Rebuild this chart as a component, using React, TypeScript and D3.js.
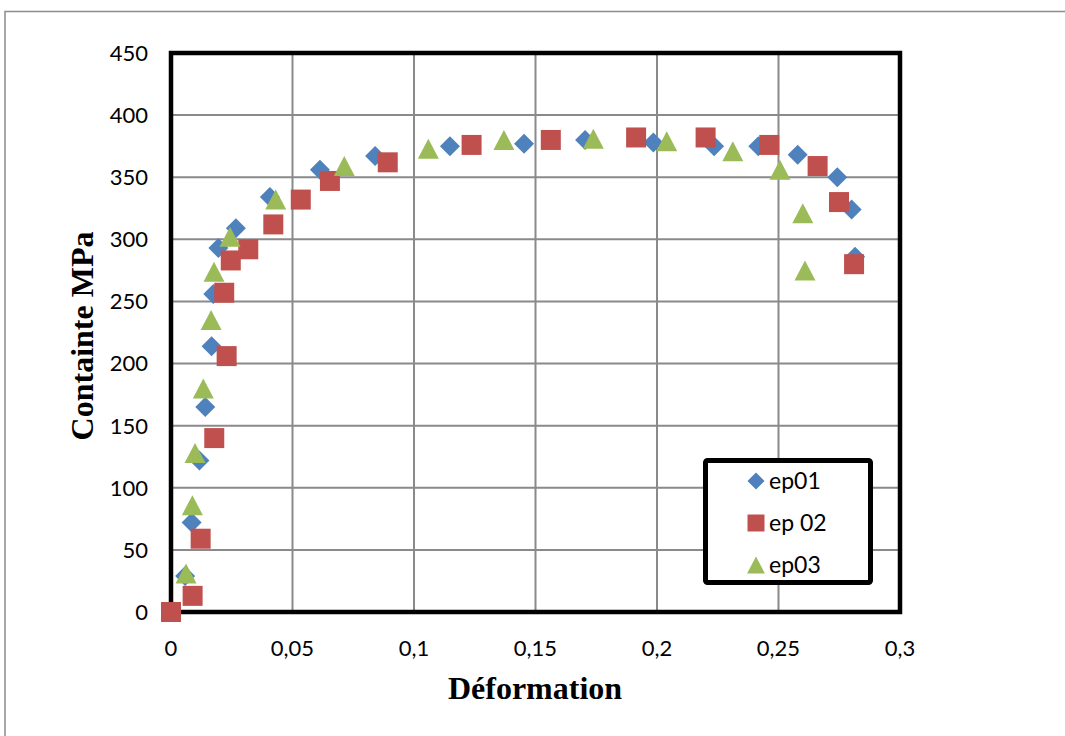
import React from "react";
import * as d3 from "d3";

const xTicks = [0, 0.05, 0.1, 0.15, 0.2, 0.25, 0.3];
const xTickLabels = ["0", "0,05", "0,1", "0,15", "0,2", "0,25", "0,3"];
const yTicks = [0, 50, 100, 150, 200, 250, 300, 350, 400, 450];
const yTickLabels = ["0", "50", "100", "150", "200", "250", "300", "350", "400", "450"];

const ep01X = [0, 0.0058, 0.0085, 0.0117, 0.0141, 0.0167, 0.0174, 0.0195, 0.0267, 0.0407, 0.0613, 0.084, 0.1148, 0.1453, 0.1704, 0.1985, 0.2235, 0.2417, 0.2579, 0.2742, 0.2801, 0.2815];
const ep01Y = [0, 29, 72, 122, 165, 214, 256, 293, 309, 334, 356, 367, 375, 377, 380, 378, 375, 375, 368, 350, 324, 286];

const ep02X = [0, 0.0089, 0.0122, 0.0178, 0.0229, 0.0219, 0.0246, 0.0318, 0.0421, 0.0534, 0.0654, 0.0892, 0.1237, 0.1563, 0.1914, 0.22, 0.2462, 0.2661, 0.2749, 0.2811];
const ep02Y = [0, 13, 59, 140, 206, 257, 283, 292, 312, 332, 347, 362, 376, 380, 382, 382, 376, 359, 330, 280];

const ep03X = [0.0062, 0.0088, 0.0099, 0.0133, 0.0165, 0.0177, 0.0243, 0.0431, 0.0713, 0.1059, 0.137, 0.1738, 0.204, 0.2312, 0.2506, 0.26, 0.2609];
const ep03Y = [31, 86, 128, 180, 235, 274, 302, 332, 359, 373, 380, 381, 379, 371, 356, 321, 275];

const seriesNames = ["ep01", "ep 02", "ep03"];
const seriesColors = ["#4F81BD", "#C0504D", "#9BBB59"];

const diamond = (r: number) => `M0,${-r}L${r},0L0,${r}L${-r},0Z`;
const square = (r: number) => `M${-r},${-r}L${r},${-r}L${r},${r}L${-r},${r}Z`;
const triangle = (r: number) => `M0,${-r}L${r * 1.05},${r}L${-r * 1.05},${r}Z`;
const shapes = [diamond, square, triangle];

export default function App() {
  const W = 1065, H = 736;
  const left = 171, right = 900, top = 53, bottom = 612;
  const x = d3.scaleLinear().domain([0, 0.3]).range([left, right]);
  const y = d3.scaleLinear().domain([0, 450]).range([bottom, top]);

  const series = [
    { xs: ep01X, ys: ep01Y },
    { xs: ep02X, ys: ep02Y },
    { xs: ep03X, ys: ep03Y },
  ];

  const tickFont = "Lato, 'Liberation Sans', sans-serif";
  const titleFont = "'Liberation Serif', 'Times New Roman', serif";

  return (
    <svg width={W} height={H} style={{ position: "absolute", left: 0, top: 0, background: "#fff" }}>
      <rect x={0} y={0} width={W} height={H} fill="#fff" />
      {/* outer chart border */}
      <rect x={5} y={11.5} width={W + 20} height={H + 20} fill="none" stroke="#8c8c8c" strokeWidth={1.5} />

      {/* gridlines */}
      {xTicks.slice(1, -1).map((t) => (
        <line key={"gx" + t} x1={x(t)} x2={x(t)} y1={top} y2={bottom} stroke="#8a8a8a" strokeWidth={2} />
      ))}
      {yTicks.slice(1, -1).map((t) => (
        <line key={"gy" + t} x1={left} x2={right} y1={y(t)} y2={y(t)} stroke="#8a8a8a" strokeWidth={2} />
      ))}

      {/* plot border */}
      <rect x={left} y={top} width={right - left} height={bottom - top} fill="none" stroke="#000" strokeWidth={4.5} />

      {/* y tick labels */}
      {yTicks.map((t, i) => (
        <text key={"yt" + t} x={148} y={y(t)} dy="0.36em" textAnchor="end" fontFamily={tickFont} fontSize={22} fill="#000">
          {yTickLabels[i]}
        </text>
      ))}
      {/* x tick labels */}
      {xTicks.map((t, i) => (
        <text key={"xt" + t} x={x(t)} y={656} textAnchor="middle" fontFamily={tickFont} fontSize={22} fill="#000">
          {xTickLabels[i]}
        </text>
      ))}

      {/* axis titles */}
      <text x={535} y={699} textAnchor="middle" fontFamily={titleFont} fontWeight="bold" fontSize={32} fill="#000">
        Déformation
      </text>
      <text transform={`translate(93,336) rotate(-90)`} textAnchor="middle" fontFamily={titleFont} fontWeight="bold" fontSize={32} fill="#000">
        Containte MPa
      </text>

      {/* markers */}
      {series.map((s, si) => (
        <g key={"s" + si} fill={seriesColors[si]}>
          {s.xs.map((xv, i) => (
            <path key={i} d={shapes[si](10)} transform={`translate(${x(xv)},${y(s.ys[i])})`} />
          ))}
        </g>
      ))}

      {/* legend */}
      <rect x={705.5} y={460.5} width={165} height={122} rx={2} fill="#fff" stroke="#000" strokeWidth={5} />
      {seriesNames.map((name, i) => {
        const cy = 481 + i * 42;
        return (
          <g key={"lg" + i}>
            <path d={shapes[i](8.5)} transform={`translate(756,${cy})`} fill={seriesColors[i]} />
            <text x={769} y={cy} dy="0.36em" fontFamily={tickFont} fontSize={23} fill="#000">
              {name}
            </text>
          </g>
        );
      })}
    </svg>
  );
}
